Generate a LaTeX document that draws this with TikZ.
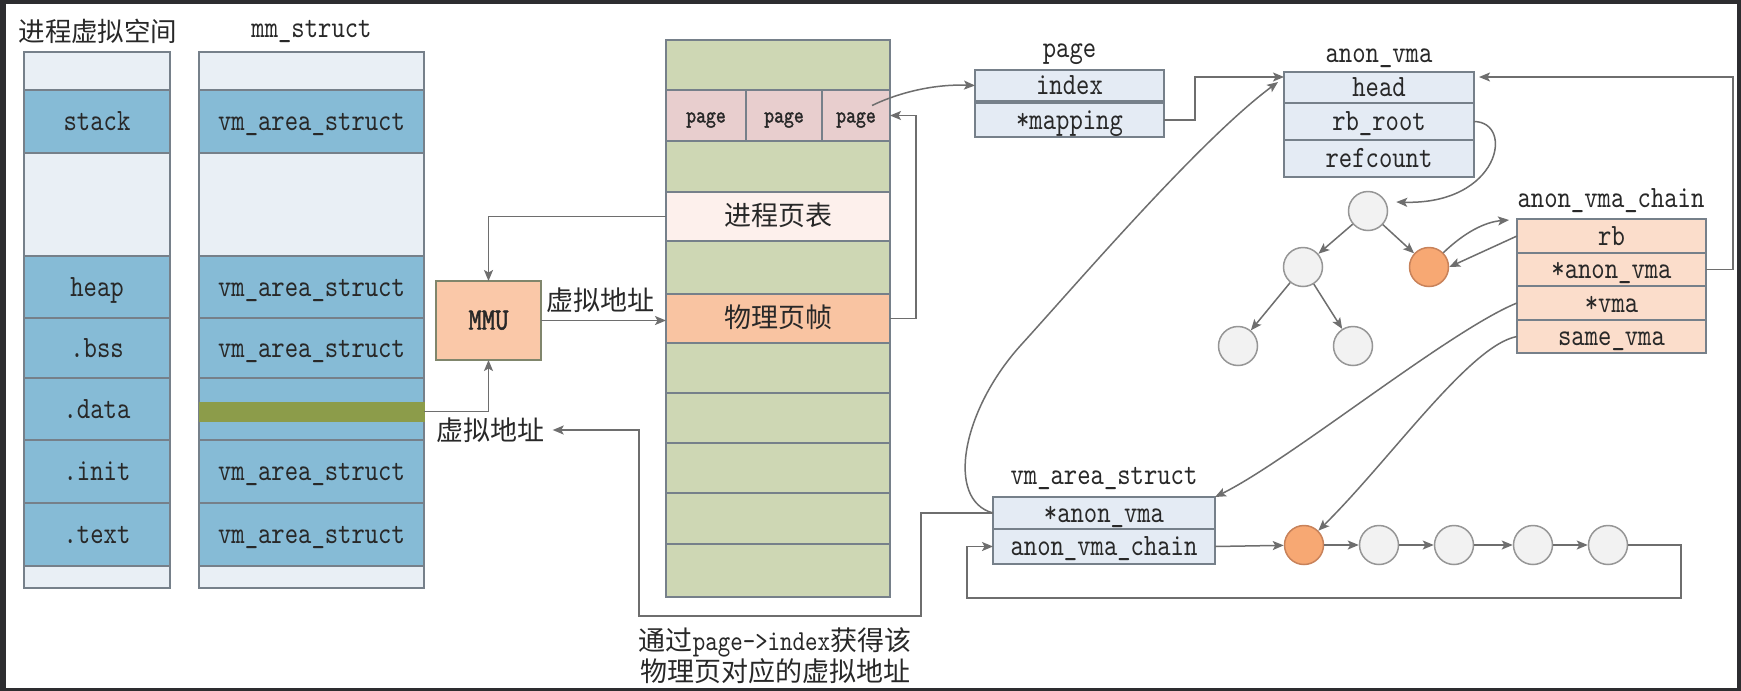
\documentclass[tikz,border=0pt]{standalone}
\usepackage{fontspec}
\newfontfamily\cjk{Noto Sans CJK SC}
\newfontfamily\reftt{lmmono10-regular.otf}[FakeStretch=0.82]
\newfontfamily\refttb{lmmono10-regular.otf}[FakeStretch=0.82,FakeBold=1.5]
\usetikzlibrary{arrows.meta,calc}
\definecolor{framec}{RGB}{45,45,48}
\definecolor{bluec}{RGB}{134,187,214}
\definecolor{lightc}{RGB}{233,239,245}
\definecolor{bordc}{RGB}{118,128,138}
\definecolor{greenc}{RGB}{206,215,180}
\definecolor{gbord}{RGB}{128,134,108}
\definecolor{pagec}{RGB}{232,206,206}
\definecolor{ptc}{RGB}{253,240,236}
\definecolor{pfc}{RGB}{249,196,162}
\definecolor{mmuc}{RGB}{250,200,168}
\definecolor{structc}{RGB}{228,235,244}
\definecolor{chainc}{RGB}{251,221,203}
\definecolor{circf}{RGB}{242,242,242}
\definecolor{circb}{RGB}{150,150,150}
\definecolor{orangec}{RGB}{247,168,115}
\definecolor{orangeb}{RGB}{200,130,90}
\definecolor{gbarc}{RGB}{140,156,74}
\definecolor{arrc}{RGB}{110,110,110}
\definecolor{txtc}{RGB}{40,40,40}
\begin{document}
\begin{tikzpicture}[x=1pt,y=-1pt,
  cell/.style={draw=bordc, line width=1.6pt, anchor=north west, inner sep=0pt, outer sep=0pt},
  sz/.style 2 args={minimum width=#1pt, minimum height=#2pt},
  lbl/.style={font={\reftt\fontsize{31}{31}\selectfont}, text height=22pt, text depth=4pt, text=txtc},
  lblb/.style={font={\refttb\fontsize{31}{31}\selectfont}, text height=22pt, text depth=4pt, text=txtc},
  pglbl/.style={font={\refttb\fontsize{23}{23}\selectfont}, text height=18pt, text depth=4pt, text=txtc},
  cjkl/.style={font={\cjk\fontsize{27}{27}\selectfont}, text height=22pt, text depth=4pt, text=txtc},
  cjkt/.style={font={\cjk\fontsize{27}{27}\selectfont}, text=txtc, inner sep=0pt},
  ttl/.style={font={\reftt\fontsize{31}{31}\selectfont}, text=txtc, inner sep=0pt, anchor=base},
  circ/.style={circle, draw=circb, fill=circf, line width=1.5pt, minimum size=39pt, inner sep=0pt},
  ocirc/.style={circ, draw=orangeb, fill=orangec},
  arr/.style={draw=arrc, line width=1.5pt, -{Stealth[length=11pt,width=9pt,inset=2.5pt]}},
  ln/.style={draw=arrc, line width=1.5pt}
]
\useasboundingbox (0,0) rectangle (1741,691);
\fill[framec] (0,0) rectangle (1741,691);
\fill[white] (6,4) rectangle (1737,688);

% titles
\node[cjkt,font={\cjk\fontsize{26.5}{26.5}\selectfont}] (ttl1) at (98,31) {进程虚拟空间};
\node[ttl] (ttl2) at (311.5,37) {mm\_struct};
\node[ttl] (ttl3) at (1069.5,57) {page};
\node[ttl] (ttl4) at (1379,62) {anon\_vma};
\node[ttl] (ttl5) at (1611,207) {anon\_vma\_chain};
\node[ttl] (ttl6) at (1104,484) {vm\_area\_struct};

% process virtual space
\node[cell,fill=lightc,sz={146}{38}] (a0) at (24,52) {};
\node[cell,fill=bluec,sz={146}{63},lbl] (a1) at (24,90) {stack};
\node[cell,fill=lightc,sz={146}{103}] (a2) at (24,153) {};
\node[cell,fill=bluec,sz={146}{62},lbl] (a3) at (24,256) {heap};
\node[cell,fill=bluec,sz={146}{60},lbl] (a4) at (24,318) {.bss};
\node[cell,fill=bluec,sz={146}{62},lbl] (a5) at (24,378) {.data};
\node[cell,fill=bluec,sz={146}{63},lbl] (a6) at (24,440) {.init};
\node[cell,fill=bluec,sz={146}{63},lbl] (a7) at (24,503) {.text};
\node[cell,fill=lightc,sz={146}{22}] (a8) at (24,566) {};

% mm_struct
\node[cell,fill=lightc,sz={225}{38}] (b0) at (199,52) {};
\node[cell,fill=bluec,sz={225}{63},lbl] (b1) at (199,90) {vm\_area\_struct};
\node[cell,fill=lightc,sz={225}{103}] (b2) at (199,153) {};
\node[cell,fill=bluec,sz={225}{62},lbl] (b3) at (199,256) {vm\_area\_struct};
\node[cell,fill=bluec,sz={225}{60},lbl] (b4) at (199,318) {vm\_area\_struct};
\node[cell,fill=bluec,sz={225}{62}] (b5) at (199,378) {};
\node[cell,fill=gbarc,draw=gbarc,line width=0.8pt,sz={225}{19}] (gbar) at (199,402) {};
\node[cell,fill=bluec,sz={225}{63},lbl] (b6) at (199,440) {vm\_area\_struct};
\node[cell,fill=bluec,sz={225}{63},lbl] (b7) at (199,503) {vm\_area\_struct};
\node[cell,fill=lightc,sz={225}{22}] (b8) at (199,566) {};

% physical memory
\begin{scope}[every node/.append style={draw=gbord}]
\node[cell,fill=greenc,sz={224}{50}] (p0) at (666,40) {};
\node[cell,fill=pagec,sz={80}{51},pglbl] (pg1) at (666,90) {page};
\node[cell,fill=pagec,sz={76}{51},pglbl] (pg2) at (746,90) {page};
\node[cell,fill=pagec,sz={68}{51},pglbl] (pg3) at (822,90) {page};
\node[cell,fill=greenc,sz={224}{51}] (p2) at (666,141) {};
\node[cell,fill=ptc,sz={224}{49},cjkl] (pt) at (666,192) {进程页表};
\node[cell,fill=greenc,sz={224}{53}] (p4) at (666,241) {};
\node[cell,fill=pfc,sz={224}{49},cjkl] (pf) at (666,294) {物理页帧};
\node[cell,fill=greenc,sz={224}{50}] (p6) at (666,343) {};
\node[cell,fill=greenc,sz={224}{50}] (p7) at (666,393) {};
\node[cell,fill=greenc,sz={224}{50}] (p8) at (666,443) {};
\node[cell,fill=greenc,sz={224}{51}] (p9) at (666,493) {};
\node[cell,fill=greenc,sz={224}{53}] (p10) at (666,544) {};
\end{scope}

% MMU
\node[cell,fill=mmuc,sz={105}{79},lblb,draw=gbord] (mmu) at (436,281) {MMU};
\node[cjkt] (va1) at (600,300) {虚拟地址};
\node[cjkt] (va2) at (490.5,430) {虚拟地址};
\node[cjkt,align=center,font={\cjk\fontsize{27}{28}\selectfont}] (cap) at (775,656)
  {通过{\reftt\fontsize{29}{28}\selectfont page->index}获得该\\物理页对应的虚拟地址};

% page struct
\node[cell,fill=structc,sz={189}{31},lbl] (idx) at (975,70) {index};
\node[cell,fill=structc,sz={189}{34},lbl] (map) at (975,103) {*mapping};

% anon_vma
\node[cell,fill=structc,sz={190}{31},lbl] (head) at (1284,72) {head};
\node[cell,fill=structc,sz={190}{37},lbl] (rbr) at (1284,103) {rb\_root};
\node[cell,fill=structc,sz={190}{37},lbl] (refc) at (1284,140) {refcount};

% anon_vma_chain
\node[cell,fill=chainc,sz={189}{34},lbl] (rb) at (1517,219) {rb};
\node[cell,fill=chainc,sz={189}{33},lbl] (can) at (1517,253) {*anon\_vma};
\node[cell,fill=chainc,sz={189}{34},lbl] (vm) at (1517,286) {*vma};
\node[cell,fill=chainc,sz={189}{33},lbl] (sv) at (1517,320) {same\_vma};

% vm_area_struct
\node[cell,fill=structc,sz={222}{32},lbl] (vmaa) at (993,497) {*anon\_vma};
\node[cell,fill=structc,sz={222}{35},lbl] (vmac) at (993,529) {anon\_vma\_chain};

% tree
\node[circ] (t1) at (1368,211) {};
\node[circ] (t2) at (1303,267) {};
\node[ocirc] (o1) at (1429,267) {};
\node[circ] (t3) at (1238,346) {};
\node[circ] (t4) at (1353,346) {};

% list
\node[ocirc] (l1) at (1304,545) {};
\node[circ] (l2) at (1379,545) {};
\node[circ] (l3) at (1454,545) {};
\node[circ] (l4) at (1533,545) {};
\node[circ] (l5) at (1608,545) {};

% connectors
\draw[arr] (pt.west) -| (mmu.north);
\draw[arr] (gbar.east) -| (mmu.south);
\draw[arr] (mmu.east) -- (mmu.east -| pf.west);
\draw[arr] (pf.east) -- ++(26,0) |- (pg3.east);
\draw[arr] ($(pg3.center)+(16,-10)$) .. controls (900,92) and (935,84) .. (idx.west);

\coordinate (k1) at (921,616);
\coordinate (k2) at (639,616);
\draw[arr,shorten >=8pt] (vmaa.west) -| (k1) -- (k2) |- (va2.east);

\draw[arr] (vmaa.west) .. controls (945,500) and (962,410) .. (1021,345)
  .. controls (1080,280) and (1200,140) .. ($(head.south west)+(-6,-21)$);
\draw[arr] (map.east) -- ++(31,0) |- ($(head.north west)+(0,5)$);
\draw[arr] (can.east) -- ++(27,0) |- ($(head.north east)+(5,5)$);
\draw[arr] (rbr.east) .. controls (1515,122) and (1500,205) .. ($(t1.east)+(8,-9)$);

\draw[arr] (t1) -- (t2);
\draw[arr] (t1) -- (o1);
\draw[arr] (t2) -- (t3);
\draw[arr] (t2) -- (t4);

\draw[arr] (o1.north east) .. controls (1465,232) and (1485,222) .. ($(rb.north west)+(-8,1)$);
\draw[arr] (rb.west) -- (o1.east);
\draw[arr] (vm.west) .. controls (1450,330) and (1290,460) .. (vmaa.north east);
\draw[arr] (sv.west) .. controls (1470,345) and (1390,460) .. (l1.north east);

\draw[arr] (vmac.east) -- (l1);
\draw[arr] (l1) -- (l2);
\draw[arr] (l2) -- (l3);
\draw[arr] (l3) -- (l4);
\draw[arr] (l4) -- (l5);
\coordinate (r1) at (1681,598);
\coordinate (r2) at (967,598);
\draw[arr] (l5.east) -| (r1) -- (r2) |- (vmac.west);
\end{tikzpicture}
\end{document}
